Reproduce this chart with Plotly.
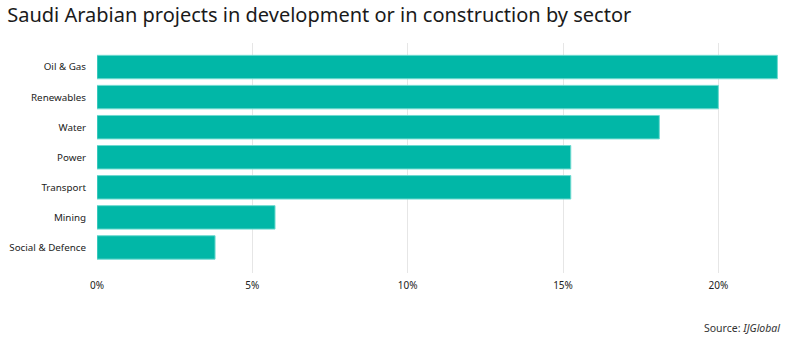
import plotly.graph_objects as go

sectors = ["Oil & Gas", "Renewables", "Water", "Power", "Transport", "Mining", "Social & Defence"]
shares = [21.9, 20.0, 18.1, 15.25, 15.25, 5.73, 3.8]
tick_vals = [0, 5, 10, 15, 20]
tick_text = ["0%", "5%", "10%", "15%", "20%"]

fig = go.Figure(go.Bar(
    x=shares, y=sectors, orientation="h",
    marker=dict(color="#01b7a7", line=dict(color="#6fdad0", width=1)),
    width=0.78,
))

fig.update_layout(
    width=805, height=342,
    margin=dict(l=97, r=27, t=43, b=69),
    paper_bgcolor="white", plot_bgcolor="white",
    font=dict(family="Noto Sans, Open Sans, sans-serif", size=10, color="#222"),
    showlegend=False,
    title=dict(text="Saudi Arabian projects in development or in construction by sector",
               x=0.009, xanchor="left", y=0.955, yanchor="middle",
               font=dict(size=20, color="#1a1a1a")),
    xaxis=dict(range=[0, 21.92], tickvals=tick_vals, ticktext=tick_text,
               showgrid=True, gridcolor="#e6e6e6", gridwidth=1, automargin=False,
               zeroline=False, showline=False, ticks="", ticklabelstandoff=5,
               tickfont=dict(size=10, color="#222")),
    yaxis=dict(range=[6.85, -0.8], showgrid=False, zeroline=False, ticks="",
               automargin=False,
               ticklabelstandoff=10, tickfont=dict(size=9.8, color="#222")),
    annotations=[dict(text="Source: <i>IJGlobal</i>", x=782, y=328, xref="paper", yref="paper",
                      showarrow=False, xanchor="right", yanchor="middle",
                      font=dict(size=10.5, color="#333"))],
)
# convert annotation pixel position to paper coords
pw = 805 - 97 - 27
ph = 342 - 43 - 69
fig.layout.annotations[0].x = (782 - 97) / pw
fig.layout.annotations[0].y = (342 - 69 - 328) / ph

fig.write_html("out.html")
